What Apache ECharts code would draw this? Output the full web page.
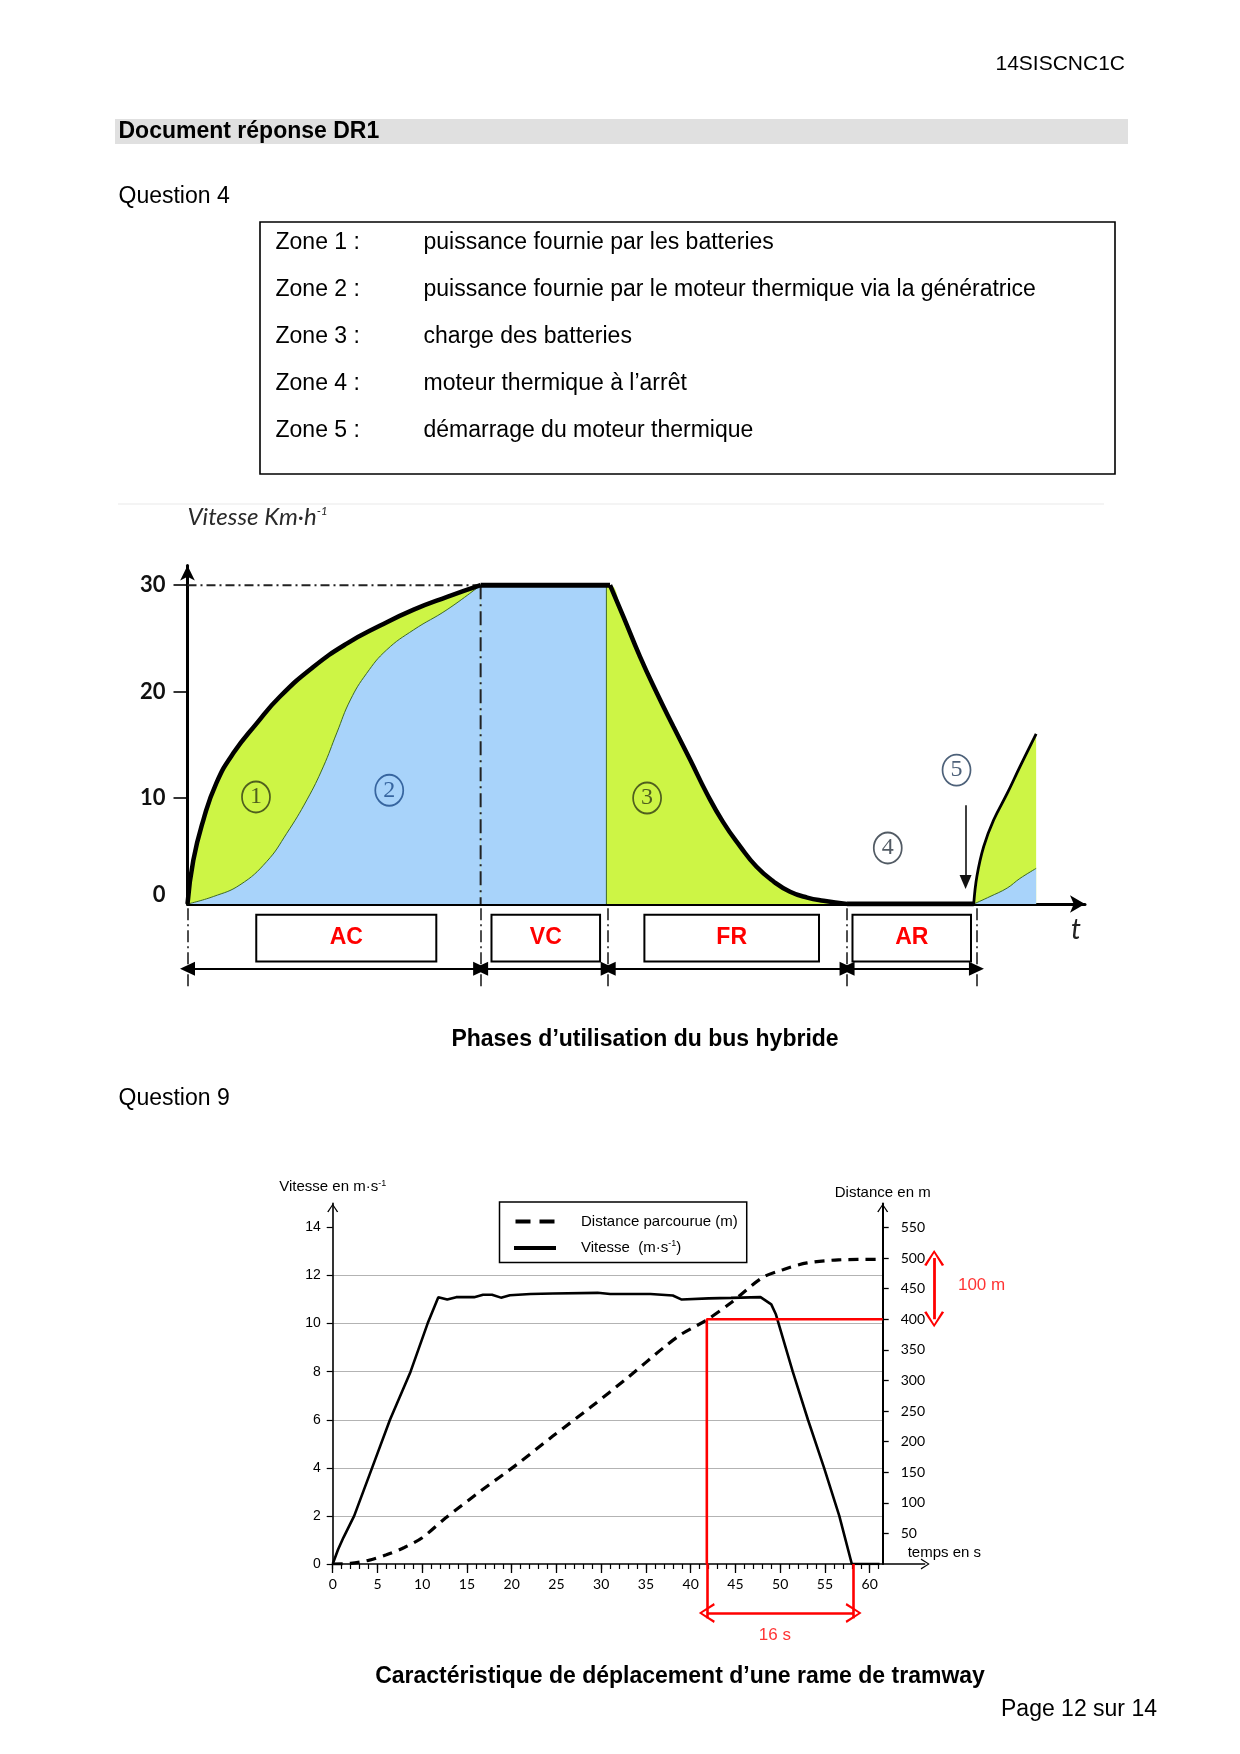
<!DOCTYPE html>
<html>
<head>
<meta charset="utf-8">
<script src="https://cdn.jsdelivr.net/npm/echarts@6/dist/echarts.min.js"></script>
<style>
html,body{margin:0;padding:0;background:#fff;}
#page{width:1240px;height:1754px;}
</style>
</head>
<body>
<div id="page"></div>
<script>
// ---------------- DATA : bus hybride (vitesse km/h en fonction du temps, unités arbitraires) ----------------
const acOuter = [[0,0],[0.64,4.1],[1.75,7.9],[3.2,11.4],[5.07,14.2],[7.65,17.0],[10.2,19.5],[13.9,22.3],[17.6,24.5],[21.3,26.2],[25,27.7],[28.7,28.9],[32.4,30]];
const acInner = [[0,0],[2.85,0.7],[5.8,1.8],[8.76,4.0],[10.97,6.65],[13.2,9.8],[15,12.9],[16.5,16.1],[18,19.2],[19.8,21.7],[22,23.9],[25,25.8],[28.7,27.7],[32.4,30]];
const vcTop = [[32.4,30],[46.7,30]];
const vcBlue = [[32.4,30],[46.3,30],[46.3,0]];
const frOuter = [[46.7,30],[48.2,27],[50,23.3],[51.9,19.8],[53.7,16.7],[55.6,13.5],[57.4,10.4],[59.2,7.7],[61.1,5.4],[62.9,3.5],[64.8,2.1],[66.6,1.16],[68.5,0.6],[70.3,0.3],[72.9,0]];
const arLevel = [[72.9,0],[86.9,0]];
const z5Outer = [[86.9,0],[87.25,2.6],[88,5.4],[89.1,7.9],[90.6,10.4],[92,12.9],[93.8,16]];
const z5Inner = [[86.9,0],[88.7,0.7],[90.6,1.5],[92,2.4],[93.8,3.35]];
const busVmax = 30;
const busYTicks = [10,20,30];
const busYLabels = [0,10,20,30];
const busPhaseNames = ['AC','VC','FR','AR'];
const busPhaseBounds = [0,32.4,46.5,72.9,87.2];
const busBoxSpans = [[7.6,27.5],[33.6,45.6],[50.5,69.8],[73.5,86.6]];
const busZoneLabels = ['1','2','3','4','5'];
const busZonePos = [[7.57,10.07],[22.3,10.7],[50.8,9.97],[77.4,5.27],[85.0,12.6]];
const busZoneColors = ['#2f3a14','#1a4a88','#2f3a14','#27323d','#213a58'];
const busZone5Arrow = [[86.0,9.3],[86.0,2.07]];

// ---------------- DATA : tramway ----------------
const tramVel = [[0,0],[0.6,0.6],[1.2,1.1],[2.4,2.0],[4.4,4.0],[6.4,6.0],[8.7,8.0],[10.6,10.0],[11.8,11.1],[12.8,11.0],[13.8,11.1],[15.8,11.1],[16.8,11.2],[17.8,11.2],[18.8,11.08],[19.8,11.18],[22.1,11.23],[24.6,11.25],[29.6,11.28],[31.0,11.23],[35.5,11.23],[38.0,11.17],[39.0,11.0],[42.0,11.05],[44.5,11.07],[47.8,11.1],[49.0,10.8],[49.5,10.4],[51.4,8.0],[53.1,6.0],[54.9,4.0],[56.6,2.0],[58.0,0],[61.1,0]];
const tramDist = [[0,0],[2,1],[4,6],[6,15],[8,27],[10,43],[12.6,75],[16.6,120],[20.6,163],[24.6,209],[28.8,256],[33.0,305],[37.0,354],[39.0,376],[41.7,398],[44.5,427],[48.0,468],[50.3,481],[53.0,492],[56.5,497],[61.45,498]];
const tramXTicks = [0,5,10,15,20,25,30,35,40,45,50,55,60];
const tramXMinor = [0,1,2,3,4,5,6,7,8,9,10,11,12,13,14,15,16,17,18,19,20,21,22,23,24,25,26,27,28,29,30,31,32,33,34,35,36,37,38,39,40,41,42,43,44,45,46,47,48,49,50,51,52,53,54,55,56,57,58,59,60,61];
const tramVTicks = [0,2,4,6,8,10,12,14];
const tramDTicks = [50,100,150,200,250,300,350,400,450,500,550];
const tramXEnd = 61.45;
const tramRedT = [41.8,58.2];
const tramRedD = [400,500];
const tramRedLabels = ['16 s','100 m'];

// ---------------- layout / style ----------------
const GREEN = '#cdf545', BLUE = '#a8d3fa', EDGE = '#3f6a22', RED = '#ff0000';
const SANS = '"Liberation Sans", Arial, sans-serif';
const CHEV = 'path://M0,16 L11,0 L22,16 L19.5,17 L11,3.5 L2.5,17 Z';
const TRI = 'path://M6,0 L12,13 L0,13 Z';
const DASHICON = 'path://M0,0 H15 V4 H0 Z M24,0 H39 V4 H24 Z';

function txt(x, y, text, opt) {
  opt = opt || {};
  const align = opt.align || 'left';
  return {type:'text', x:x, y:y, silent:true, style:{
    text:text, fill:opt.color||'#000',
    font:(opt.bold?'bold ':'')+(opt.size||23)+'px '+SANS,
    align:align, verticalAlign:'middle', textAlign:align, textVerticalAlign:'middle'}};
}

const zones = [
  ['Zone 1 :','puissance fournie par les batteries'],
  ['Zone 2 :','puissance fournie par le moteur thermique via la génératrice'],
  ['Zone 3 :','charge des batteries'],
  ['Zone 4 :','moteur thermique à l’arrêt'],
  ['Zone 5 :','démarrage du moteur thermique']
];
const graphics = [
  txt(1125,64,'14SISCNC1C',{size:21,align:'right'}),
  {type:'rect', shape:{x:115,y:119,width:1013,height:25}, style:{fill:'#e0e0e0'}, silent:true},
  txt(118.5,131.5,'Document réponse DR1',{bold:true}),
  txt(118.5,197,'Question 4'),
  {type:'rect', shape:{x:260,y:222,width:855,height:252}, style:{fill:'none',stroke:'#000',lineWidth:1.6}, silent:true},
  {type:'line', shape:{x1:118,y1:504,x2:1104,y2:504}, style:{stroke:'#e9e9e9',lineWidth:1}, silent:true},
  txt(645,1039.5,'Phases d’utilisation du bus hybride',{bold:true,align:'center'}),
  txt(118.5,1098.5,'Question 9'),
  txt(680,1676.5,'Caractéristique de déplacement d’une rame de tramway',{bold:true,align:'center'}),
  txt(1157,1710,'Page 12 sur 14',{align:'right'})
];
zones.forEach(function(z,i){
  graphics.push(txt(275.5,243+47*i,z[0]));
  graphics.push(txt(423.5,243+47*i,z[1]));
});

function lineS(data, xi, yi, style, extra) {
  return Object.assign({type:'line', xAxisIndex:xi, yAxisIndex:yi, data:data, symbol:'none', silent:true,
    lineStyle:style, z:3}, extra||{});
}
function areaS(data, color, smooth, edge) {
  return {type:'line', xAxisIndex:0, yAxisIndex:0, data:data, symbol:'none', smooth:smooth, silent:true,
    lineStyle: edge ? {width:1, color:EDGE} : {width:0},
    areaStyle:{color:color, opacity:1}, z: edge ? 2 : 1};
}

const series = [
  // fills
  areaS(acOuter, GREEN, 0.5, false),
  areaS([vcBlue[1]].concat(frOuter), GREEN, 0.5, false),
  areaS(z5Outer, GREEN, 0.4, false),
  areaS(acInner, BLUE, 0.45, true),
  areaS(vcBlue, BLUE, false, true),
  areaS(z5Inner, BLUE, 0.4, true),
  // outline
  lineS(acOuter,0,0,{color:'#000',width:4.5},{smooth:0.5, z:5}),
  lineS(vcTop,0,0,{color:'#000',width:5},{z:5}),
  lineS(frOuter,0,0,{color:'#000',width:4.5},{smooth:0.5, z:5}),
  lineS(arLevel,0,0,{color:'#000',width:5},{z:5}),
  lineS(z5Outer,0,0,{color:'#000',width:2.8},{smooth:0.4, z:5}),
  // dash-dot guides
  lineS([[0,busVmax],[acOuter[acOuter.length-1][0],busVmax]],0,0,{color:'#222',width:2,type:[9,4,2,4]},{z:4}),
  lineS([[acOuter[acOuter.length-1][0],busVmax],[acOuter[acOuter.length-1][0],0]],0,0,{color:'#222',width:2,type:[14,5,2,5]},{z:4,
    markLine:{silent:true, symbol:['none',TRI], symbolSize:[12,14], label:{show:false},
      lineStyle:{color:'#111',width:1.6,type:'solid'},
      data:[[{coord:busZone5Arrow[0]},{coord:busZone5Arrow[1]}]]}}),
  // zone markers
  {type:'scatter', xAxisIndex:0, yAxisIndex:0, silent:true, z:6, symbol:'circle', symbolSize:[28,31],
    data: busZonePos.map(function(p,i){ return {value:p, itemStyle:{borderColor:busZoneColors[i]},
      label:{color:busZoneColors[i]}}; }),
    itemStyle:{color:'rgba(0,0,0,0)', borderWidth:1.8},
    label:{show:true, position:'inside', fontFamily:'"Liberation Serif", "DejaVu Serif", serif', fontSize:24,
      formatter:function(p){ return busZoneLabels[p.dataIndex]; }}},
  // phase annotations (grid 1)
  {type:'line', xAxisIndex:1, yAxisIndex:1, data:[], silent:true,
    markLine:{silent:true, symbol:['none','none'], label:{show:false},
      lineStyle:{color:'#222',width:1.6,type:[12,4,2,4]},
      data: busPhaseBounds.map(function(t){ return [{coord:[t,-0.4]},{coord:[t,-8.1]}]; })},
    markArea:{silent:true, itemStyle:{color:'#fff', borderColor:'#000', borderWidth:2},
      label:{show:true, position:'inside', color:RED, fontFamily:SANS, fontWeight:'bold', fontSize:23},
      data: busBoxSpans.map(function(s,i){ return [{name:busPhaseNames[i], coord:[s[0],-1.0]},{coord:[s[1],-5.4]}]; })}},
  {type:'line', xAxisIndex:1, yAxisIndex:1, data:[], silent:true,
    markLine:{silent:true, symbol:[TRI,TRI], symbolSize:[14,15], label:{show:false},
      lineStyle:{color:'#000',width:2,type:'solid'},
      data: busPhaseNames.map(function(n,i){ return [{coord:[busPhaseBounds[i],-6.1]},{coord:[busPhaseBounds[i+1],-6.1]}]; })}},

  // ---------- tramway ----------
  {type:'line', name:'Vitesse  (m·s-1)', xAxisIndex:2, yAxisIndex:2, data:tramVel, symbol:'none', silent:true,
    lineStyle:{color:'#000',width:2.6}, itemStyle:{color:'#000'}, z:4},
  {type:'line', name:'Distance parcourue (m)', xAxisIndex:2, yAxisIndex:3, data:tramDist, symbol:'none', smooth:0.3, silent:true,
    lineStyle:{color:'#000',width:3.2,type:[10,7]}, itemStyle:{color:'#000'}, z:4},
  lineS([[tramXEnd,tramRedD[0]],[tramRedT[0],tramRedD[0]],[tramRedT[0],0]],2,3,{color:RED,width:2.6},{z:5}),
  // ext grid: axis arrow + 100 m
  {type:'line', xAxisIndex:4, yAxisIndex:4, data:[], silent:true,
    markLine:{silent:true, symbol:['none',CHEV], symbolSize:[11,9], label:{show:false},
      lineStyle:{color:'#000',width:1.5,type:'solid'},
      data:[[{coord:[tramXEnd,0]},{coord:[66.2,0]}]]}},
  {type:'line', xAxisIndex:4, yAxisIndex:4, data:[], silent:true,
    markLine:{silent:true, symbol:[CHEV,CHEV], symbolSize:[20,16], label:{show:false},
      lineStyle:{color:RED,width:2.8,type:'solid'},
      data:[[{coord:[67.2,tramRedD[1]]},{coord:[67.2,tramRedD[0]]}]]}},
  {type:'scatter', xAxisIndex:4, yAxisIndex:4, silent:true, symbolSize:1, itemStyle:{color:'rgba(0,0,0,0)'},
    data:[[72.5,456]], label:{show:true, position:'inside', color:RED, fontFamily:SANS, fontSize:17,
      formatter:function(){ return tramRedLabels[1]; }}},
  // below grid: 16 s
  {type:'line', xAxisIndex:5, yAxisIndex:5, data:[], silent:true,
    markLine:{silent:true, symbol:['none','none'], label:{show:false},
      lineStyle:{color:RED,width:2.6,type:'solid'},
      data: tramRedT.map(function(t){ return [{coord:[t,0]},{coord:[t,-2.26]}]; })}},
  {type:'line', xAxisIndex:5, yAxisIndex:5, data:[], silent:true,
    markLine:{silent:true, symbol:[CHEV,CHEV], symbolSize:[20,16], label:{show:false},
      lineStyle:{color:RED,width:2.6,type:'solid'},
      data:[[{coord:[tramRedT[0],-2.04]},{coord:[tramRedT[1],-2.04]}]]}},
  {type:'scatter', xAxisIndex:5, yAxisIndex:5, silent:true, symbolSize:1, itemStyle:{color:'rgba(0,0,0,0)'},
    data:[[49.4,-2.95]], label:{show:true, position:'inside', color:RED, fontFamily:SANS, fontSize:17,
      formatter:function(){ return tramRedLabels[0]; }}}
];

const none = {show:false};
const option = {
  animation:false,
  backgroundColor:'#fff',
  graphic: graphics,
  legend:{
    orient:'vertical', left:499.5, top:1202, padding:[12,9,7,14.5], itemGap:10, itemWidth:42, itemHeight:4,
    borderColor:'#000', borderWidth:1.5, backgroundColor:'#fff', selectedMode:false,
    data:[{name:'Distance parcourue (m)', icon:DASHICON}, {name:'Vitesse  (m·s-1)', icon:'rect'}],
    formatter:function(n){ return n.indexOf('Vitesse')===0 ? '{a|Vitesse  (m·s}{s|-1}{a|)}' : '{a|'+n+'}'; },
    textStyle:{padding:[0,0,0,20], rich:{a:{fontFamily:SANS,fontSize:15,lineHeight:18,color:'#000'}, s:{fontFamily:SANS,fontSize:9,color:'#000',verticalAlign:'top'}}}
  },
  grid:[
    {left:187.5, top:565.5, width:897.5, height:338.5, outerBoundsMode:'none'},
    {left:187.5, top:904, width:897.5, height:96, outerBoundsMode:'none'},
    {left:332.7, top:1203.4, width:550, height:360.6, outerBoundsMode:'none'},
    {left:882.7, top:1203.4, width:130.2, height:360.6, outerBoundsMode:'none'},
    {left:332.7, top:1564, width:550, height:91.5, outerBoundsMode:'none'}
  ],
  xAxis:[
    {gridIndex:0, type:'value', min:0, max:99.2,
      axisLine:{show:true, onZero:false, symbol:['none','arrow'], symbolSize:[13,15], lineStyle:{color:'#000',width:3}},
      axisTick:none, axisLabel:none, splitLine:none,
      name:'t', nameLocation:'end', nameGap:-9,
      nameTextStyle:{fontFamily:'Lato, sans-serif', fontStyle:'italic', fontSize:28, color:'#222', align:'center', verticalAlign:'top', padding:[12,0,0,0]}},
    {gridIndex:1, type:'value', min:0, max:99.2, show:false},
    {gridIndex:2, type:'value', min:0, max:tramXEnd,
      axisLine:{show:true, onZero:false, lineStyle:{color:'#000',width:1.6}},
      axisTick:{show:true, customValues:tramXTicks, length:9, lineStyle:{color:'#000',width:1.3}},
      axisLabel:{show:true, customValues:tramXTicks, margin:13, fontFamily:'Lato, sans-serif', fontSize:14, color:'#000'},
      splitLine:none,
      name:'temps en s', nameLocation:'end', nameGap:25,
      nameTextStyle:{fontFamily:SANS, fontSize:15, color:'#000', align:'left', verticalAlign:'bottom', padding:[0,0,4,0]}},
    {gridIndex:2, type:'value', min:0, max:tramXEnd, position:'bottom',
      axisLine:{show:false}, axisTick:{show:true, customValues:tramXMinor, length:5, lineStyle:{color:'#000',width:1.2}},
      axisLabel:none, splitLine:none},
    {gridIndex:3, type:'value', min:tramXEnd, max:76, show:false},
    {gridIndex:4, type:'value', min:0, max:tramXEnd, show:false}
  ],
  yAxis:[
    {gridIndex:0, type:'value', min:0, max:31.85,
      axisLine:{show:true, onZero:false, symbol:['none','arrow'], symbolSize:[11,15], lineStyle:{color:'#000',width:3}},
      axisTick:{show:true, customValues:busYTicks, length:14, lineStyle:{color:'#000',width:1.6}},
      axisLabel:{show:true, customValues:busYLabels, margin:22, fontFamily:'Lato, sans-serif', fontWeight:'bold', fontSize:22, color:'#111',
        formatter:function(v){ return v===0 ? '{z|0}' : String(v); },
        rich:{z:{fontFamily:'Lato, sans-serif', fontWeight:'bold', fontSize:22, color:'#111', padding:[0,0,18,0]}}},
      splitLine:none,
      name:'{a|Vitesse Km·h}{s|-1}', nameLocation:'end', nameGap:36,
      nameTextStyle:{align:'left', verticalAlign:'bottom',
        rich:{a:{fontFamily:'Lato, sans-serif', fontStyle:'italic', fontSize:24, color:'#2a2a2a'},
              s:{fontFamily:'Lato, sans-serif', fontStyle:'italic', fontSize:12, color:'#2a2a2a', verticalAlign:'top'}}}},
    {gridIndex:1, type:'value', min:-9.03, max:0, show:false},
    {gridIndex:2, type:'value', min:0, max:15, position:'left',
      axisLine:{show:true, onZero:false, symbol:['none',CHEV], symbolSize:[11,9], symbolOffset:[0,-4.5], lineStyle:{color:'#000',width:1.6}},
      axisTick:{show:true, customValues:tramVTicks, length:6, lineStyle:{color:'#000',width:1.2}},
      axisLabel:{show:true, customValues:tramVTicks, margin:12, fontFamily:SANS, fontSize:14, color:'#000'},
      splitLine:{show:true, showMinLine:false, showMaxLine:false, lineStyle:{color:'#b3b3b3',width:1.2}},
      name:'{a|Vitesse en m·s}{s|-1}', nameLocation:'end', nameGap:9,
      nameTextStyle:{align:'center', verticalAlign:'bottom',
        rich:{a:{fontFamily:SANS,fontSize:15,color:'#000'}, s:{fontFamily:SANS,fontSize:9,color:'#000',verticalAlign:'top'}}}},
    {gridIndex:2, type:'value', min:0, max:589.2857, position:'right',
      axisLine:{show:true, onZero:false, symbol:['none',CHEV], symbolSize:[11,9], symbolOffset:[0,-4.5], lineStyle:{color:'#000',width:2}},
      axisTick:{show:true, customValues:tramDTicks, length:6, lineStyle:{color:'#000',width:1.3}},
      axisLabel:{show:true, customValues:tramDTicks, margin:18, fontFamily:'Lato, sans-serif', fontSize:14, color:'#000'},
      splitLine:none,
      name:'Distance en m', nameLocation:'end', nameGap:3,
      nameTextStyle:{fontFamily:SANS, fontSize:15, color:'#000', align:'center', verticalAlign:'bottom'}},
    {gridIndex:3, type:'value', min:0, max:589.2857, show:false},
    {gridIndex:4, type:'value', min:-3.806, max:0, show:false}
  ],
  series: series
};

const chart = echarts.init(document.getElementById('page'), null, {renderer:'canvas', width:1240, height:1754});
chart.setOption(option);
</script>
</body>
</html>
